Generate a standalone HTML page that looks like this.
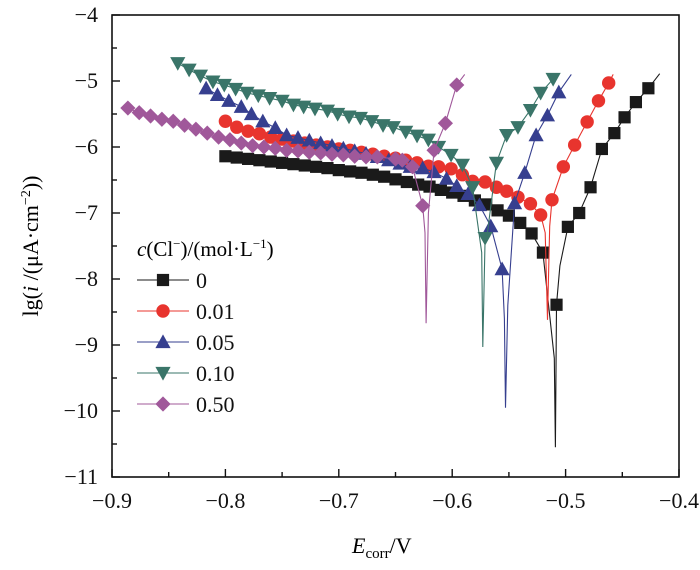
<!DOCTYPE html>
<html><head><meta charset="utf-8">
<style>
html,body{margin:0;padding:0;background:#fff;}
svg{display:block;font-family:"Liberation Serif","DejaVu Serif",serif;}
</style></head>
<body>
<svg id="chart" width="700" height="570" viewBox="0 0 700 570" xmlns="http://www.w3.org/2000/svg">
<g id="axes"></g>
<g id="series"></g>
<g id="legend">
  <text x="137" y="256" font-size="21"><tspan font-style="italic">c</tspan>(Cl<tspan font-size="13" dy="-8">−</tspan><tspan dy="8">)/(mol·L</tspan><tspan font-size="13" dy="-8">−1</tspan><tspan dy="8">)</tspan></text>
</g>
<text x="352" y="553" font-size="22"><tspan font-style="italic">E</tspan><tspan font-size="15" dy="5">corr</tspan><tspan dy="-5">/V</tspan></text>
<text transform="translate(38,246) rotate(-90)" text-anchor="middle" font-size="22">lg(<tspan font-style="italic">i</tspan> /(μA·cm<tspan font-size="14" dy="-8">−2</tspan><tspan dy="8">))</tspan></text>
</svg>
<script>
const xTicks = [-0.9,-0.8,-0.7,-0.6,-0.5,-0.4];
const xTickLabels = ["−0.9","−0.8","−0.7","−0.6","−0.5","−0.4"];
const yTicks = [-4,-5,-6,-7,-8,-9,-10,-11];
const yTickLabels = ["−4","−5","−6","−7","−8","−9","−10","−11"];
const seriesNames = ["0","0.01","0.05","0.10","0.50"];

const e0 = [-0.80,-0.79,-0.78,-0.77,-0.76,-0.75,-0.74,-0.73,-0.72,-0.71,-0.70,-0.69,-0.68,-0.67,-0.66,-0.65,-0.64,-0.63,-0.62,-0.61,-0.60,-0.59,-0.58,-0.57,-0.56,-0.55,-0.54,-0.53,-0.52,-0.508,-0.498,-0.488,-0.478,-0.468,-0.457,-0.448,-0.438,-0.427];
const lg0 = [-6.14,-6.16,-6.18,-6.20,-6.22,-6.24,-6.26,-6.28,-6.30,-6.32,-6.35,-6.37,-6.39,-6.42,-6.45,-6.49,-6.53,-6.57,-6.60,-6.65,-6.69,-6.74,-6.81,-6.87,-6.96,-7.04,-7.15,-7.31,-7.60,-8.39,-7.21,-7.00,-6.61,-6.03,-5.79,-5.55,-5.32,-5.11];
const spikeE0 = [-0.510,-0.509,-0.505,-0.417];
const spikeLg0 = [-9.2,-10.55,-7.8,-4.89];

const e1 = [-0.80,-0.79,-0.78,-0.77,-0.76,-0.75,-0.74,-0.73,-0.72,-0.71,-0.70,-0.69,-0.68,-0.67,-0.66,-0.65,-0.641,-0.631,-0.621,-0.612,-0.601,-0.591,-0.582,-0.571,-0.561,-0.552,-0.542,-0.531,-0.522,-0.512,-0.502,-0.492,-0.481,-0.471,-0.462];
const lg1 = [-5.61,-5.70,-5.76,-5.80,-5.85,-5.88,-5.91,-5.94,-5.97,-6.00,-6.03,-6.05,-6.08,-6.11,-6.14,-6.17,-6.20,-6.24,-6.29,-6.30,-6.33,-6.42,-6.52,-6.53,-6.61,-6.67,-6.76,-6.86,-7.03,-6.80,-6.30,-5.97,-5.62,-5.30,-5.03];
const spikeE1 = [-0.518,-0.516,-0.514,-0.458];
const spikeLg1 = [-7.3,-8.62,-7.2,-4.90];

const e2 = [-0.817,-0.807,-0.797,-0.786,-0.777,-0.767,-0.756,-0.746,-0.736,-0.726,-0.716,-0.706,-0.696,-0.686,-0.676,-0.666,-0.656,-0.646,-0.637,-0.626,-0.616,-0.605,-0.596,-0.586,-0.576,-0.566,-0.556,-0.545,-0.536,-0.526,-0.516,-0.506];
const lg2 = [-5.11,-5.21,-5.30,-5.39,-5.50,-5.61,-5.71,-5.82,-5.86,-5.90,-5.94,-5.98,-6.02,-6.06,-6.10,-6.15,-6.20,-6.25,-6.30,-6.32,-6.38,-6.48,-6.59,-6.71,-6.88,-7.20,-7.85,-6.85,-6.39,-5.82,-5.52,-5.17];
const spikeE2 = [-0.554,-0.553,-0.551,-0.495];
const spikeLg2 = [-8.6,-9.95,-8.4,-4.90];

const e3 = [-0.842,-0.832,-0.822,-0.811,-0.801,-0.791,-0.781,-0.771,-0.761,-0.750,-0.740,-0.731,-0.721,-0.710,-0.701,-0.691,-0.681,-0.671,-0.661,-0.652,-0.641,-0.631,-0.621,-0.612,-0.601,-0.591,-0.582,-0.571,-0.561,-0.552,-0.542,-0.531,-0.522,-0.511];
const lg3 = [-4.73,-4.83,-4.92,-5.01,-5.06,-5.12,-5.18,-5.22,-5.26,-5.30,-5.36,-5.39,-5.42,-5.45,-5.50,-5.54,-5.56,-5.61,-5.67,-5.70,-5.77,-5.83,-5.89,-6.00,-6.12,-6.27,-6.61,-7.38,-6.24,-5.82,-5.70,-5.44,-5.18,-4.97];
const spikeE3 = [-0.574,-0.573,-0.569,-0.506];
const spikeLg3 = [-7.6,-9.03,-7.3,-4.90];

const e4 = [-0.886,-0.876,-0.866,-0.856,-0.846,-0.836,-0.826,-0.816,-0.806,-0.796,-0.786,-0.776,-0.766,-0.756,-0.746,-0.736,-0.726,-0.716,-0.706,-0.696,-0.686,-0.676,-0.666,-0.650,-0.644,-0.635,-0.626,-0.616,-0.606,-0.596];
const lg4 = [-5.41,-5.48,-5.53,-5.58,-5.61,-5.67,-5.73,-5.79,-5.85,-5.89,-5.94,-5.98,-6.00,-6.02,-6.05,-6.06,-6.08,-6.09,-6.11,-6.12,-6.14,-6.15,-6.15,-6.18,-6.20,-6.30,-6.89,-6.05,-5.64,-5.06];
const spikeE4 = [-0.624,-0.623,-0.621,-0.589];
const spikeLg4 = [-7.3,-8.67,-7.0,-4.90];

const NS = "http://www.w3.org/2000/svg";
const X0 = 112, X1 = 679, Y0 = 15, Y1 = 477;
function sx(v){ return X0 + (v + 0.9) / 0.5 * (X1 - X0); }
function sy(v){ return Y0 + (-4 - v) / 7 * (Y1 - Y0); }
function mk(tag, attrs, parent){ const el = document.createElementNS(NS, tag); for (const k in attrs) el.setAttribute(k, attrs[k]); parent.appendChild(el); return el; }

const axes = document.getElementById('axes');
const frame = mk('rect', {x:X0, y:Y0, width:X1-X0, height:Y1-Y0, fill:'none', stroke:'#111', 'stroke-width':1.6}, axes);


for (let i = 0; i < xTicks.length; i++) {
  const x = sx(xTicks[i]);
  const t = mk('line', {x1:x, x2:x, y1:Y1, y2:Y1-8, stroke:'#111', 'stroke-width':1.4}, axes);
  
  
  if (i < xTicks.length - 1) {
    const xm = sx(xTicks[i] + 0.05);
    const m = mk('line', {x1:xm, x2:xm, y1:Y1, y2:Y1-5, stroke:'#111', 'stroke-width':1.4}, axes);
    
    
  }
  const lb = mk('text', {x:x, y:Y1+31, 'text-anchor':'middle', 'font-size':22, fill:'#111'}, axes);
  lb.textContent = xTickLabels[i];
  
  
}
for (let i = 0; i < yTicks.length; i++) {
  const y = sy(yTicks[i]);
  const t = mk('line', {x1:X0, x2:X0+8, y1:y, y2:y, stroke:'#111', 'stroke-width':1.4}, axes);
  
  
  if (i < yTicks.length - 1) {
    const ym = sy(yTicks[i] - 0.5);
    const m = mk('line', {x1:X0, x2:X0+5, y1:ym, y2:ym, stroke:'#111', 'stroke-width':1.4}, axes);
    
    
  }
  const lb = mk('text', {x:X0-14, y:y+7, 'text-anchor':'end', 'font-size':22, fill:'#111'}, axes);
  lb.textContent = yTickLabels[i];
  
  
}

function marker(g, shape, x, y, color){
  const s = 6.1;
  let el;
  if (shape === 'square') el = mk('rect', {x:x-s, y:y-s, width:2*s, height:2*s, fill:color}, g);
  else if (shape === 'circle') el = mk('circle', {cx:x, cy:y, r:s+0.6, fill:color}, g);
  else if (shape === 'up') el = mk('polygon', {points:`${x},${y-s-1.5} ${x-s-1.5},${y+s} ${x+s+1.5},${y+s}`, fill:color}, g);
  else if (shape === 'down') el = mk('polygon', {points:`${x},${y+s+1.5} ${x-s-1.5},${y-s} ${x+s+1.5},${y-s}`, fill:color}, g);
  else el = mk('polygon', {points:`${x},${y-s-1.5} ${x+s+1.5},${y} ${x},${y+s+1.5} ${x-s-1.5},${y}`, fill:color}, g);
  return el;
}

const seriesDefs = [
  {E:e0, L:lg0, sE:spikeE0, sL:spikeLg0, color:'#1a1a1a', shape:'square', name:'series-0'},
  {E:e1, L:lg1, sE:spikeE1, sL:spikeLg1, color:'#e8342e', shape:'circle', name:'series-0-01'},
  {E:e2, L:lg2, sE:spikeE2, sL:spikeLg2, color:'#363f8f', shape:'up', name:'series-0-05'},
  {E:e3, L:lg3, sE:spikeE3, sL:spikeLg3, color:'#3a7569', shape:'down', name:'series-0-10'},
  {E:e4, L:lg4, sE:spikeE4, sL:spikeLg4, color:'#a0589a', shape:'diamond', name:'series-0-50'}
];
const sg = document.getElementById('series');
seriesDefs.forEach(function(s){
  const g = mk('g', {}, sg);
  
  
  const pts = [];
  for (let i = 0; i < s.E.length; i++) pts.push([s.E[i], s.L[i]]);
  for (let i = 0; i < s.sE.length; i++) pts.push([s.sE[i], s.sL[i]]);
  pts.sort(function(a,b){ return a[0]-b[0]; });
  const d = pts.map(function(p,i){ return (i?'L':'M') + sx(p[0]).toFixed(1) + ',' + sy(p[1]).toFixed(1); }).join(' ');
  const path = mk('path', {d:d, fill:'none', stroke:s.color, 'stroke-width':1.1}, g);
  
  
  for (let i = 0; i < s.E.length; i++) {
    const m = marker(g, s.shape, sx(s.E[i]), sy(s.L[i]), s.color);
    
    
  }
});

const lg = document.getElementById('legend');
seriesDefs.forEach(function(s, i){
  const y = 280 + i * 31;
  const g = mk('g', {}, lg);
  
  
  mk('line', {x1:137, x2:189, y1:y, y2:y, stroke:s.color, 'stroke-width':1.1}, g);
  marker(g, s.shape, 163, y, s.color);
  const t = mk('text', {x:196, y:y+8, 'font-size':22, fill:'#111'}, g);
  t.textContent = seriesNames[i];
});
</script>
</body></html>
